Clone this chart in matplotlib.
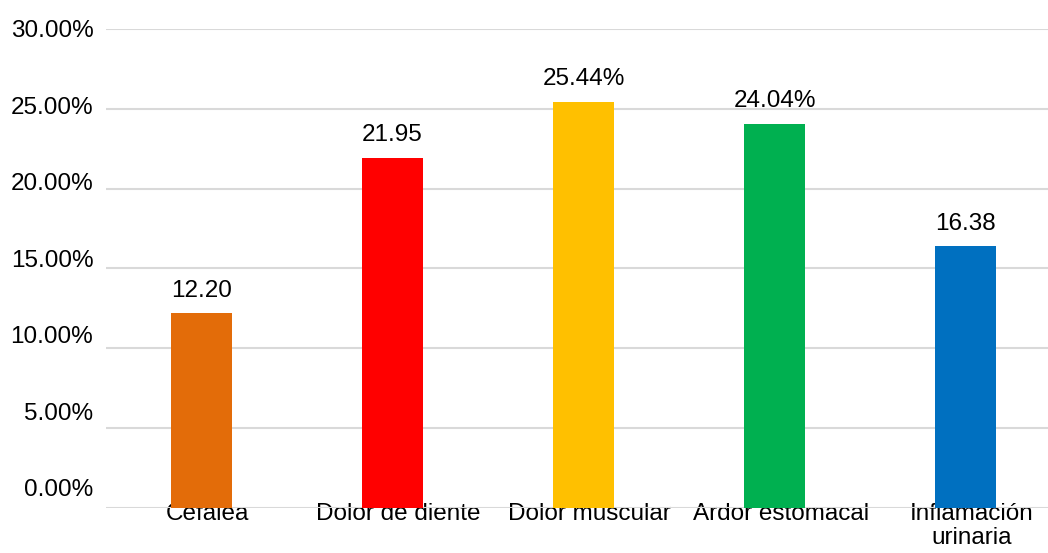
import matplotlib.pyplot as plt
import matplotlib.transforms as mtransforms
from matplotlib.ticker import FuncFormatter

plt.rcParams['font.family'] = ['Liberation Sans', 'DejaVu Sans']

categories = ['Cefalea', 'Dolor de diente', 'Dolor muscular', 'Ardor estomacal', 'Inflamación\nurinaria']
values = [12.20, 21.95, 25.44, 24.04, 16.38]
value_labels = ['12.20', '21.95', '25.44%', '24.04%', '16.38']
colors = ['#E36C09', '#FF0000', '#FFC000', '#00B050', '#0070C0']
yticks = [0, 5, 10, 15, 20, 25, 30]
fs = 17.5

fig = plt.figure(figsize=(10.48, 5.53), dpi=100)
ax = fig.add_axes([0.101, 0.0814, 0.899, 0.8662])

x = list(range(len(categories)))
bars = ax.bar(x, values, width=0.32, color=colors, zorder=3)

for b, lab in zip(bars, value_labels):
    ax.annotate(lab, (b.get_x() + b.get_width() / 2, b.get_height()),
                xytext=(0, 12), textcoords='offset points',
                ha='center', va='baseline', fontsize=fs, color='#000000')

ax.set_xlim(-0.5, 4.43)
ax.set_ylim(0, 30)
ax.set_yticks(yticks)
ax.yaxis.grid(True, color='#d9d9d9', linewidth=1.5, zorder=0)
ax.tick_params(axis='y', length=0, labelleft=False)
ax.set_xticks(x)
ax.set_xticklabels(categories, fontsize=fs)
ax.tick_params(axis='x', length=0, pad=-3.5)
offset = mtransforms.ScaledTranslation(6 / 100, 0, fig.dpi_scale_trans)
for lbl in ax.get_xticklabels():
    lbl.set_transform(lbl.get_transform() + offset)
    lbl.set_linespacing(1.1)
for s in ax.spines.values():
    s.set_visible(False)

# tick labels sit on a slightly compressed scale, as in the original
ax2 = ax.twinx()
ax2.yaxis.tick_left()
ax2.set_ylim(-1.31, 30)
ax2.set_yticks(yticks)
ax2.yaxis.set_major_formatter(FuncFormatter(lambda v, p: '%.2f%%' % v))
ax2.tick_params(axis='y', length=0, pad=9, labelsize=fs)
for s in ax2.spines.values():
    s.set_visible(False)

fig.savefig('out.png', dpi=100)
